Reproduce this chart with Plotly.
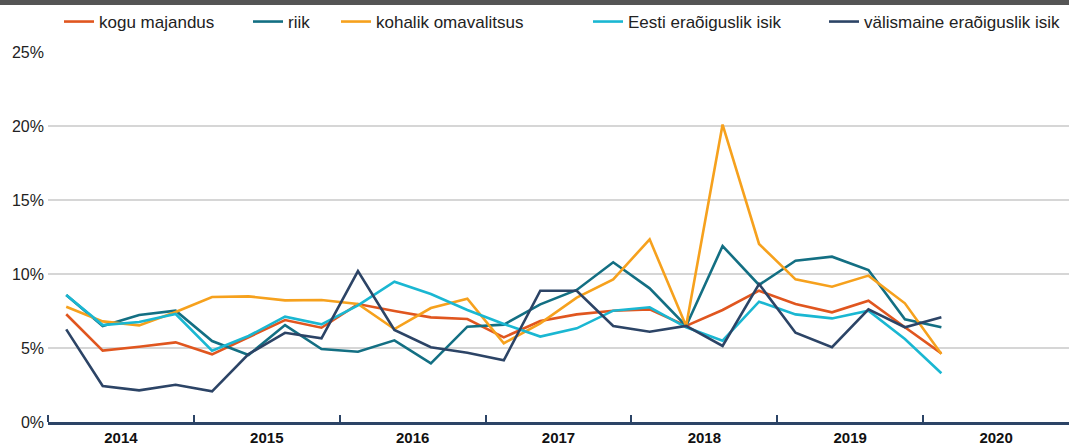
import plotly.graph_objects as go

quarters = [f"{y} Q{q}" for y in range(2014, 2021) for q in range(1, 5)][:25]
years = ["2014", "2015", "2016", "2017", "2018", "2019", "2020"]

kogu_majandus = [7.28, 4.82, 5.09, 5.38, 4.57, 5.72, 6.89, 6.37, 7.97, 7.50, 7.07, 6.96, 5.72,
                 6.82, 7.27, 7.52, 7.61, 6.49, 7.57, 8.87, 7.97, 7.41, 8.20, 6.40, 4.64]
riik = [8.58, 6.49, 7.23, 7.52, 5.47, 4.53, 6.55, 4.93, 4.75, 5.52, 3.96, 6.44, 6.58,
        7.95, 8.92, 10.79, 9.03, 6.49, 11.89, 9.26, 10.90, 11.17, 10.27, 6.94, 6.40]
kohalik_omavalitsus = [7.79, 6.80, 6.53, 7.43, 8.45, 8.49, 8.22, 8.24, 7.97, 6.28, 7.70, 8.33, 5.32,
                       6.67, 8.40, 9.64, 12.34, 6.49, 20.10, 12.03, 9.64, 9.14, 9.89, 8.02, 4.59]
eesti_eraoiguslik = [8.58, 6.55, 6.76, 7.30, 4.82, 5.81, 7.12, 6.60, 7.88, 9.48, 8.65, 7.57, 6.62,
                     5.77, 6.33, 7.52, 7.75, 6.40, 5.49, 8.13, 7.27, 7.00, 7.52, 5.61, 3.29]
valismaine_eraoiguslik = [6.26, 2.43, 2.14, 2.52, 2.07, 4.59, 6.03, 5.65, 10.20, 6.22, 5.05, 4.68, 4.17,
                          8.87, 8.87, 6.49, 6.10, 6.49, 5.14, 9.32, 6.03, 5.05, 7.61, 6.40, 7.07]

series = [
    ("kogu majandus", kogu_majandus, "#e0561f"),
    ("riik", riik, "#136f83"),
    ("kohalik omavalitsus", kohalik_omavalitsus, "#f6a11d"),
    ("Eesti eraõiguslik isik", eesti_eraoiguslik, "#1ab7d2"),
    ("välismaine eraõiguslik isik", valismaine_eraoiguslik, "#2c4466"),
]

# quarter index -> position at the centre of each quarter
xpos = [i + 0.5 for i in range(len(quarters))]

W, H = 1069, 446
ML, MR, MT, MB = 48, 0, 52, 24
PW, PH = W - ML - MR, H - MT - MB

text_starts = [98, 287, 375, 627, 863]

fig = go.Figure()
layout_legends = {}
for k, ((name, vals, col), tx) in enumerate(zip(series, text_starts)):
    lname = "legend" if k == 0 else f"legend{k+1}"
    fig.add_trace(go.Scatter(
        x=xpos, y=vals, name=name, mode="lines",
        line=dict(color=col, width=2.6),
        customdata=quarters, hovertemplate="%{customdata}: %{y:.1f}%<extra>" + name + "</extra>",
        legend=lname,
    ))
    layout_legends[lname] = dict(
        x=(tx - 39 - ML) / PW, xanchor="left",
        y=1 + (MT - 22) / PH, yanchor="middle",
        orientation="h", bgcolor="rgba(0,0,0,0)", borderwidth=0,
        font=dict(family="Liberation Sans, Arial, sans-serif", size=17, color="#222222"),
    )

fig.update_layout(
    width=W, height=H,
    margin=dict(l=ML, r=MR, t=MT, b=MB, autoexpand=False),
    paper_bgcolor="white", plot_bgcolor="white",
    showlegend=True,
    **layout_legends,
    font=dict(family="Liberation Sans, Arial, sans-serif", color="#222222"),
    xaxis=dict(
        range=[0, 28],
        automargin=False,
        tickmode="array",
        tickvals=[4 * i + 2 for i in range(len(years))],
        ticktext=years,
        ticks="",
        showgrid=False, zeroline=False,
        showline=True, linecolor="#2c4466", linewidth=2.5,
        tickfont=dict(size=15, color="#111111", family="Liberation Sans, Arial, sans-serif", weight="bold"),
        minor=dict(tickmode="array", tickvals=[4 * i for i in range(len(years))],
                   ticks="inside", ticklen=7, tickwidth=2, tickcolor="#2c4466", showgrid=False),
        fixedrange=True,
    ),
    yaxis=dict(
        range=[0, 25],
        automargin=False,
        tickvals=[0, 5, 10, 15, 20, 25],
        ticktext=["0%", "5%", "10%", "15%", "20%", "25%"],
        showgrid=True, gridcolor="#d6d6d6", gridwidth=1.5,
        zeroline=False, showline=False, ticks="",
        ticklabelstandoff=3,
        tickfont=dict(size=16, color="#222222"),
        fixedrange=True,
    ),
    shapes=[dict(type="rect", xref="paper", yref="paper",
                 x0=-ML / PW, x1=1 + MR / PW,
                 y0=1 + (MT - 5) / PH, y1=1 + MT / PH,
                 fillcolor="#555555", line=dict(width=0), layer="above")],
)

fig.write_html(
    "out.html",
    config={"displayModeBar": False},
    post_script="document.body.style.margin='0';document.body.style.overflow='hidden';",
)
